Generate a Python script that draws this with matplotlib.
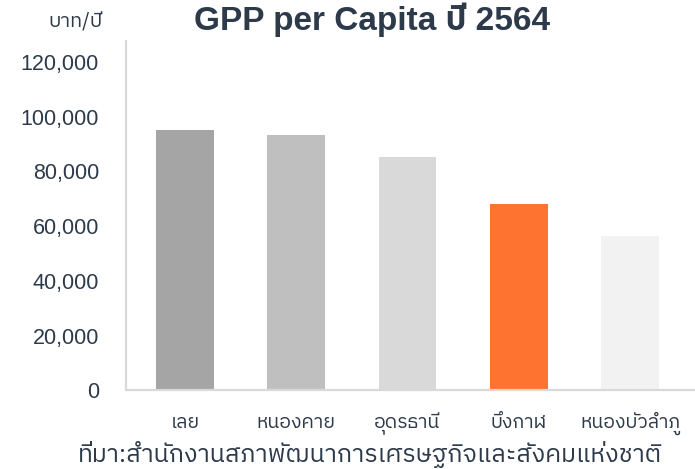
import matplotlib
matplotlib.use("Agg")
import matplotlib.pyplot as plt
from matplotlib import font_manager, ft2font

provinces = ["เลย", "หนองคาย", "อุดรธานี", "บึงกาฬ", "หนองบัวลำภู"]
gpp_per_capita = [95200, 93500, 85300, 68100, 56400]
bar_colors = ["#a5a5a5", "#bfbfbf", "#d9d9d9", "#ff7330", "#f2f2f2"]
y_ticks = [0, 20000, 40000, 60000, 80000, 100000, 120000]

title = "GPP per Capita ปี 2564"
unit_label = "บาท/ปี"
source = "ที่มา:สำนักงานสภาพัฒนาการเศรษฐกิจและสังคมแห่งชาติ"

TEXT = "#2d3a4a"
AXIS = "#d9d9d9"


def find_thai_family():
    found = []
    for f in font_manager.fontManager.ttflist:
        try:
            cmap = ft2font.FT2Font(f.fname).get_charmap()
        except Exception:
            continue
        if 0x0E01 in cmap and 0x0E33 in cmap:
            found.append(f.name)
    for name in found:
        if "Thai" in name and "Looped" not in name:
            return name
    return found[0] if found else "DejaVu Sans"


def main():
    thai = find_thai_family()
    fam = ["Liberation Sans", thai, "DejaVu Sans"]
    thai_fam = [thai, "Liberation Sans", "DejaVu Sans"]

    fig = plt.figure(figsize=(6.95, 4.69), dpi=100)
    ax = fig.add_axes([126 / 695, 78.7 / 469, 569 / 695, 349.6 / 469])

    x = range(len(provinces))
    ax.bar(x, gpp_per_capita, width=0.52, color=bar_colors, zorder=2)

    ax.set_xlim(-0.53, 4.584)
    ax.set_ylim(0, 127800)
    ax.set_yticks(y_ticks)
    ax.set_yticklabels([f"{v:,}" for v in y_ticks], family=fam, fontsize=15.5, color=TEXT)
    ax.set_xticks(list(x))
    ax.set_xticklabels(provinces, family=thai_fam, fontsize=14, color=TEXT)
    for lab in ax.get_xticklabels():
        lab.set_va("center")
    ax.tick_params(axis="y", length=0, pad=19.4)
    ax.tick_params(axis="x", length=0, pad=23.8)

    for side in ["top", "right"]:
        ax.spines[side].set_visible(False)
    for side in ["left", "bottom"]:
        ax.spines[side].set_color(AXIS)
        ax.spines[side].set_linewidth(1.6)

    fig.text(372 / 695, 1 - 30 / 469, title, ha="center", va="baseline",
             fontsize=24, fontweight="bold", color=TEXT, family=fam)
    fig.text(103 / 695, 1 - 22 / 469, unit_label, ha="right", va="center",
             fontsize=14.5, color=TEXT, family=thai_fam)
    fig.text(370 / 695, 7 / 469, source, ha="center", va="baseline",
             fontsize=18, color=TEXT, family=thai_fam)

    fig.savefig("out.png", dpi=100)


if __name__ == "__main__":
    main()
